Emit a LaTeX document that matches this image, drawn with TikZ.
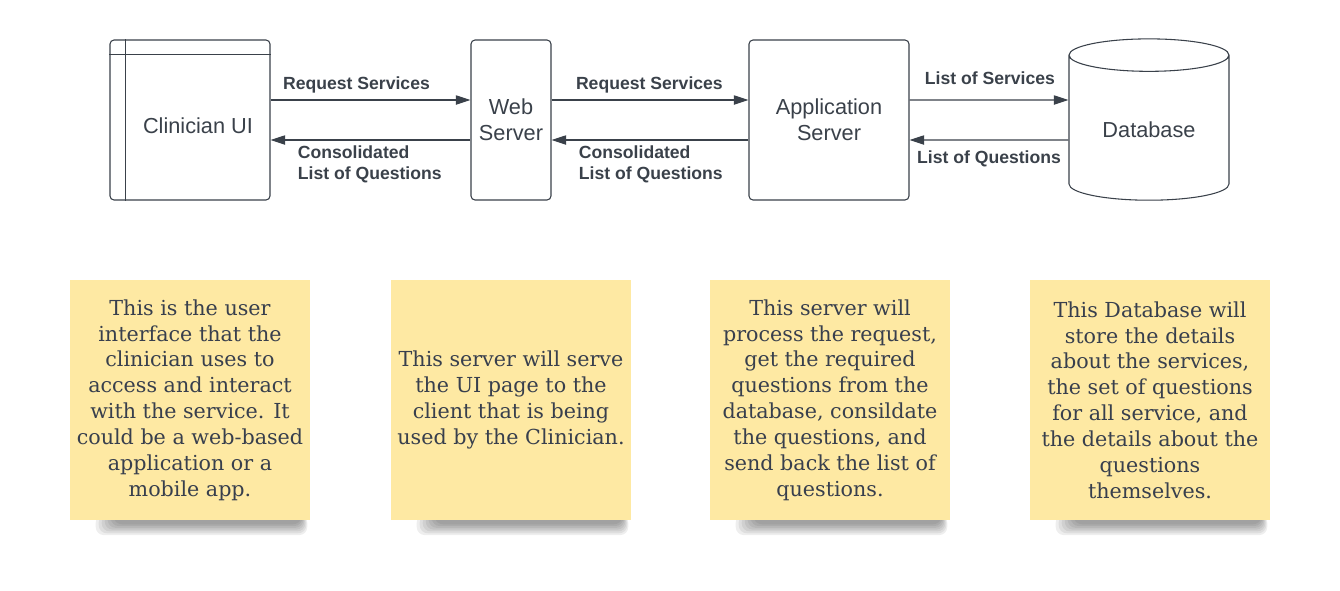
\documentclass[tikz,border=0pt]{standalone}
\usepackage{fontspec}
\setmainfont{Liberation Sans}
\newfontfamily\notefont{DejaVu Serif}
\usetikzlibrary{
  arrows.meta,
  shapes.geometric,
  positioning,
  calc,
  backgrounds
}
\definecolor{dgInk}{HTML}{3A414A}
\definecolor{dgNote}{HTML}{FEE9A3}
\definecolor{dgNoteText}{HTML}{383F4D}
\definecolor{dgShadow}{HTML}{1E1E1E}
\tikzset{
  dgnode/.style={
    draw=dgInk, line width=0.8pt, fill=white, text=dgInk, align=center,
    inner sep=2pt, font=\fontsize{16.3}{19.5}\selectfont
  },
  dgbox/.style={dgnode, rounded corners=3pt, minimum width=120pt, minimum height=120pt},
  webbox/.style={dgbox, minimum width=60pt},
  dbshape/.style={
    dgnode, cylinder, shape border rotate=90, aspect=0.33,
    minimum width=120pt, minimum height=121pt
  },
  flow/.style={-{Triangle[length=11pt, width=7pt]}, line width=0.8pt, dgInk},
  lbl/.style={font=\bfseries\fontsize{13.2}{15.75}\selectfont, text=dgInk,
    inner sep=2pt, text depth=0.22em, align=left},
  note/.style={
    fill=dgNote, minimum width=180pt, minimum height=180pt, inner sep=0pt,
    align=center, text=dgNoteText, font=\notefont\fontsize{15.5}{19.4}\selectfont
  },
  noteshade/.style={fill=dgShadow, opacity=0.075, rounded corners=6pt}
}

\begin{document}
\begin{tikzpicture}[x=0.75pt, y=-0.75pt]
  \useasboundingbox (0,0) rectangle (1340,590);
  % top row
  \node[dgbox, text height=21pt] (ui) at (190,120) {\hspace*{12pt}Clinician UI};
  \node[webbox] (web) at (511,120) {Web\\Server};
  \node[dgbox] (app) at (829,120) {Application\\Server};
  \node[dbshape] (db) at (1149,130) {Database};
  \draw[dgInk, line width=0.8pt] ([xshift=12pt]ui.north west) -- ([xshift=12pt]ui.south west);
  \draw[dgInk, line width=0.8pt] ([yshift=-11.25pt]ui.north west) -- ([yshift=-11.25pt]ui.north east);

  \draw[flow] ([yshift=15pt]ui.east) -- node[lbl, above=3pt, pos=0.43] (reqUi) {Request Services} ([yshift=15pt]web.west);
  \draw[flow] ([yshift=-15pt]web.west) -- node[lbl, anchor=north west, pos=0.879, yshift=-2pt] (consUi) {Consolidated\\List of Questions} ([yshift=-15pt]ui.east);
  \draw[flow] ([yshift=15pt]web.east) -- node[lbl, above=3pt, pos=0.497] (reqApp) {Request Services} ([yshift=15pt]app.west);
  \draw[flow] ([yshift=-15pt]app.west) -- node[lbl, anchor=north west, pos=0.877, yshift=-2pt] (consApp) {Consolidated\\List of Questions} ([yshift=-15pt]web.east);
  \draw[flow] ([yshift=15pt]app.east) -- node[lbl, above=6.8pt, pos=0.506] (svcDb) {List of Services} ([yshift=22.5pt]db.west);
  \draw[flow] ([yshift=-7.5pt]db.west) -- node[lbl, below=5.9pt, midway] (qDb) {List of Questions} ([yshift=-15pt]app.east);

  % sticky notes
  \node[note] (note1) at (190,400) {This is the user\\interface that the\\clinician uses to\\access and interact\\with the service. It\\could be a web-based\\application or a\\mobile app.};
  \node[note] (note2) at (511,400) {This server will serve\\the UI page to the\\client that is being\\used by the Clinician.};
  \node[note] (note3) at (830,400) {This server will\\process the request,\\get the required\\questions from the\\database, consildate\\the questions, and\\send back the list of\\questions.};
  \node[note] (note4) at (1150,400) {This Database will\\store the details\\about the services,\\the set of questions\\for all service, and\\the details about the\\questions\\themselves.};
  \begin{scope}[on background layer]
    \foreach \n in {1,...,4}{
      \foreach \k in {0,...,6}{
        \fill[noteshade] ($(note\n.south west)+(44-3*\k,-8+0.4*\k)$) rectangle ($(note\n.south east)+(-9+\k,4+1.8*\k)$);
      }
    }
  \end{scope}
\end{tikzpicture}
\end{document}
